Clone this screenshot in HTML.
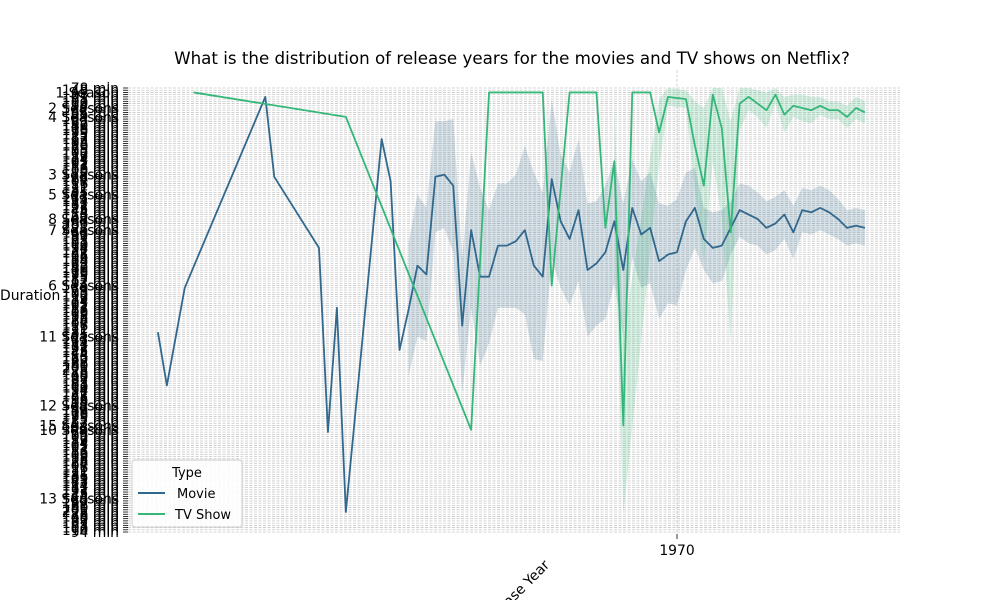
<!DOCTYPE html>
<html><head><meta charset="utf-8"><style>
body{margin:0;background:#fff;width:1000px;height:600px;overflow:hidden;font-family:"Liberation Sans","DejaVu Sans",sans-serif}
</style></head><body>
<svg id="chart" width="1000" height="600" xmlns="http://www.w3.org/2000/svg" font-family="DejaVu Sans, Liberation Sans, sans-serif">
<text x="512" y="64" font-size="16.7" text-anchor="middle">What is the distribution of release years for the movies and TV shows on Netflix?</text>
<g id="grid"></g><g id="bands"></g><g id="lines"></g><g id="yticks"></g>
<text x="0" y="300" font-size="13.9">Duration</text>
<text x="0" y="0" font-size="13.9" transform="translate(519,597) rotate(-45)" text-anchor="middle">Release Year</text>
<g>
<rect x="132" y="460" width="110" height="67" rx="3" fill="#fff" fill-opacity="0.85" stroke="#ccc"/>
<text x="187" y="477" font-size="13" text-anchor="middle">Type</text>
<line x1="138" y1="493" x2="165" y2="493" stroke="#31688e" stroke-width="2"/>
<text x="177" y="498" font-size="13">Movie</text>
<line x1="138" y1="514" x2="165" y2="514" stroke="#35b779" stroke-width="2"/>
<text x="175" y="519" font-size="13">TV Show</text>
</g>
</svg>
<script>
const movieYears=[1912,1913,1915,1924,1925,1930,1931,1932,1933,1937,1938,1939,1940,1941,1942,1943,1944,1945,1946,1947,1948,1949,1950,1951,1952,1953,1954,1955,1956,1957,1958,1959,1960,1961,1962,1963,1964,1965,1966,1967,1968,1969,1970,1971,1972,1973,1974,1975,1976,1977,1978,1979,1980,1981,1982,1983,1984,1985,1986,1987,1988,1989,1990,1991];
const movieValues=[110,134,90,4,40,72,155,99,191,23,42,118,100,80,84,40,39,44,107,64,85,85,71,71,69,64,80,85,41,60,68,55,82,79,74,60,82,54,66,63,78,75,74,60,54,68,72,71,63,55,57,59,63,61,57,65,55,56,54,56,59,63,62,63];
const movieBand=[0,0,0,0,0,0,0,0,0,0,0,0,30,32,30,25,24,30,30,35,40,30,28,28,30,38,42,38,36,30,30,32,30,28,30,28,30,22,24,25,26,22,24,22,18,14,16,16,12,12,13,12,12,12,11,12,10,10,10,10,9,8,8,8];
const tvYears=[1916,1933,1947,1949,1955,1956,1958,1961,1962,1963,1964,1965,1967,1968,1969,1971,1972,1973,1974,1975,1976,1977,1978,1979,1980,1981,1982,1983,1984,1985,1986,1987,1988,1989,1990,1991];
const tvValues=[2,13,154,2,2,89,2,2,63,33,152,2,2,20,4,5,26,44,3,18,65,7,4,7,10,3,12,8,9,10,8,10,10,13,9,11];
const tvBand=[0,0,0,0,0,0,0,0,0,25,40,0,0,15,4,4,20,35,30,40,50,12,6,6,8,4,8,5,6,6,4,4,4,5,5,5];
const minuteLabels=[78,148,90,97,101,88,102,110,94,121,132,85,96,118,104,83,92,140,106,115,99,125,87,112,93,108,130,79,95,100,117,89,124,105,91,113,86,103,119,98,128,84,107,116,111,122,81,135,109,143,127,114,82,131,123,145,74,155,160,172,66,180,201,228];
const seasonLabels={2:"1 Season",9:"2 Seasons",13:"4 Seasons",39:"3 Seasons",48:"5 Seasons",59:"8 Seasons",64:"7 Seasons",89:"6 Seasons",112:"11 Seasons",143:"12 Seasons",152:"15 Seasons",154:"10 Seasons",185:"13 Seasons"};
const xTicks=[1970];
const NS="http://www.w3.org/2000/svg";
const nCat=201;
const x=yr=>677+(yr-1970)*8.95;
const y=v=>88+v*2.22;
const mk=(t,a,p)=>{const e=document.createElementNS(NS,t);for(const k in a)e.setAttribute(k,a[k]);p.appendChild(e);return e;};
const grid=document.getElementById('grid'),yt=document.getElementById('yticks');
for(let i=0;i<nCat;i++){
 const yy=y(i);
 const g=mk('line',{x1:128,x2:900,y1:yy,y2:yy,stroke:'#c8c8c8','stroke-width':0.8,'stroke-dasharray':'3,1.5'},grid);
 
 
 mk('line',{x1:123,x2:128,y1:yy,y2:yy,stroke:'#000','stroke-width':0.8},yt);
 const lab=seasonLabels[i]||(minuteLabels[i%minuteLabels.length]+" min");
 const t=mk('text',{x:119,y:yy+5,'font-size':13.9,'text-anchor':'end'},yt);
 t.textContent=lab;
 
 
}
xTicks.forEach(v=>{
 const xx=x(v);
 mk('line',{x1:xx,x2:xx,y1:70,y2:534,stroke:'#c8c8c8','stroke-width':0.8,'stroke-dasharray':'3,1.5'},grid);
 mk('line',{x1:xx,x2:xx,y1:534,y2:539,stroke:'#000','stroke-width':0.8},yt);
 const t=mk('text',{x:xx,y:555,'font-size':13.9,'text-anchor':'middle'},yt);
 t.textContent=v;
 
 
});
function band(yrs,vals,hw,color,name){
 const idx=[];hw.forEach((h,i)=>{if(h>0)idx.push(i);});
 let top=idx.map(i=>x(yrs[i])+','+y(Math.max(0,vals[i]-hw[i])));
 let bot=idx.slice().reverse().map(i=>x(yrs[i])+','+y(Math.min(200,vals[i]+hw[i])));
 const p=mk('polygon',{points:top.concat(bot).join(' '),fill:color,'fill-opacity':0.2},document.getElementById('bands'));
 
 
}
band(movieYears,movieValues,movieBand,'#31688e','movie-confidence-band');
band(tvYears,tvValues,tvBand,'#35b779','tv-confidence-band');
function line(yrs,vals,color,name){
 const p=mk('polyline',{points:yrs.map((yr,i)=>x(yr)+','+y(vals[i])).join(' '),fill:'none',stroke:color,'stroke-width':1.8,'stroke-linejoin':'round'},document.getElementById('lines'));
 
 
}
line(movieYears,movieValues,'#31688e','movie-line');
line(tvYears,tvValues,'#35b779','tv-show-line');
</script>
</body></html>
